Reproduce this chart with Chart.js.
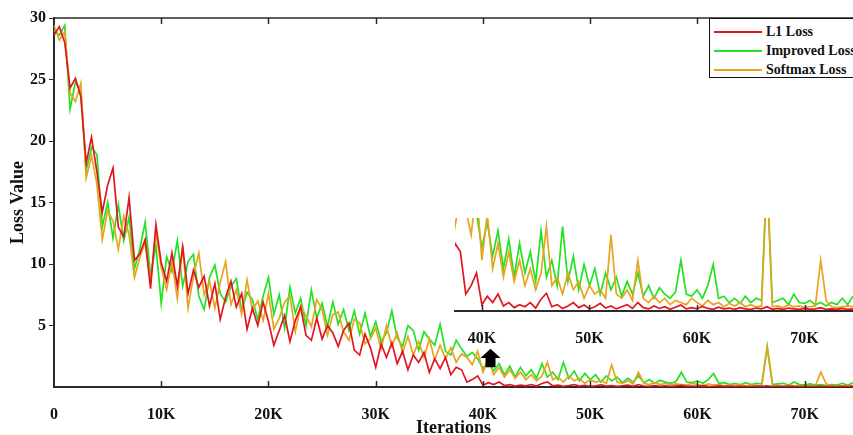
<!DOCTYPE html>
<html>
<head>
<meta charset="utf-8">
<script src="https://cdn.jsdelivr.net/npm/chart.js@4"></script>
<style>
  body { margin: 0; background: #fff; }
  #wrap { position: relative; width: 853px; height: 435px; overflow: hidden; }
  #main { position: absolute; left: 0; top: 0; }
  #inset { position: absolute; left: 440px; top: 205px; }
  #legend {
    position: absolute; left: 709px; top: 18px; width: 160px; height: 60px;
    border: 1.5px solid #111; background: #fff; box-sizing: border-box;
    font: bold 14px "Liberation Serif", serif; color: #111;
  }
  #legend .row { display: flex; align-items: center; height: 19px; }
  #legend .row:first-child { margin-top: 3px; }
  #legend .line { width: 48px; height: 2px; margin: 0 4px 0 4px; }
</style>
</head>
<body>
<div id="wrap">
  <canvas id="main" width="853" height="435"></canvas>
  <canvas id="inset" width="413" height="140"></canvas>
  <div id="legend"></div>
</div>
<script>
// iterations step between samples
const STEP = 500

const seriesNames = ["L1 Loss", "Improved Loss", "Softmax Loss"]
const seriesColors = ["rgb(226,22,32)", "rgb(34,226,34)", "rgb(232,164,30)"]

const l1Loss = [
  28.6, 29.3, 28.0, 24.3, 25.1, 23.6, 18.2, 20.3, 17.5, 14.2,
  16.4, 17.8, 13.0, 12.2, 15.4, 10.3, 10.8, 12.0, 8.0, 13.2,
  10.1, 8.6, 10.9, 8.2, 11.4, 7.6, 9.5, 8.1, 9.0, 6.6,
  8.4, 5.5, 7.3, 8.6, 6.5, 7.6, 4.7, 6.4, 5.0, 6.9,
  5.3, 3.4, 4.6, 5.8, 3.7, 5.4, 6.5, 4.2, 3.8, 5.6,
  3.9, 5.0, 4.4, 3.3, 4.6, 5.2, 3.0, 2.6, 4.3, 3.2,
  1.6, 3.5, 2.4, 3.6, 1.9, 2.9, 1.4, 2.6, 2.0, 2.8,
  1.2, 2.3, 1.5, 2.4, 1.0, 1.6, 1.4, 0.4, 0.6, 0.9,
  0.15, 0.35, 0.2, 0.4, 0.12, 0.2, 0.08, 0.15, 0.1, 0.2,
  0.07, 0.28, 0.42, 0.1, 0.15, 0.06, 0.12, 0.2, 0.08, 0.14,
  0.05, 0.1, 0.18, 0.07, 0.12, 0.05, 0.1, 0.15, 0.06, 0.2,
  0.08, 0.05, 0.12, 0.06, 0.1, 0.04, 0.09, 0.14, 0.05, 0.08,
  0.05, 0.11, 0.06, 0.04, 0.09, 0.05, 0.07, 0.04, 0.08, 0.05,
  0.04, 0.07, 0.05, 0.1, 0.04, 0.06, 0.04, 0.07, 0.05, 0.04,
  0.06, 0.04, 0.05, 0.08, 0.04, 0.05, 0.04, 0.06, 0.04, 0.05
]

const improvedLoss = [
  29.0, 28.6, 29.4, 22.6, 24.8, 24.0, 17.6, 19.5, 18.9, 13.0,
  15.0, 12.1, 14.8, 11.9, 13.8, 9.6, 11.2, 13.4, 9.1, 11.5,
  6.8, 10.6, 9.4, 11.9, 8.2, 10.2, 10.8, 7.4, 6.3, 8.9,
  9.9, 7.6, 6.9, 8.2, 8.8, 6.2, 7.7, 7.1, 5.5, 7.4,
  8.9, 5.9, 7.5, 4.8, 8.1, 6.0, 7.2, 5.0, 7.9, 5.6,
  6.8, 4.9, 6.9, 5.1, 6.3, 4.6, 6.2, 4.3, 6.0, 4.1,
  5.3, 3.7, 4.4, 6.2, 4.0, 3.3, 5.0, 4.6, 3.0, 4.5,
  3.9, 3.4, 5.1, 2.9, 2.6, 3.8, 3.1, 2.5, 2.8, 2.3,
  1.5, 2.1, 1.3, 1.9, 1.0, 1.7, 0.8, 1.6, 0.9, 1.4,
  0.7, 1.9, 0.8, 1.2, 0.6, 2.0, 0.7, 1.3, 0.5, 1.1,
  0.6, 1.0, 0.4, 0.9, 0.5, 0.8, 0.35, 0.7, 0.4, 0.9,
  0.35, 0.6, 0.3, 0.55, 0.4, 0.3, 0.45, 1.2, 0.4, 0.35,
  0.5, 0.3, 0.6, 1.1, 0.3, 0.35, 0.2, 0.3, 0.18, 0.35,
  0.2, 0.3, 0.25, 3.3, 0.2, 0.25, 0.3, 0.15, 0.4, 0.2,
  0.18, 0.25, 0.15, 0.2, 0.12, 0.2, 0.15, 0.3, 0.15, 0.35
]

const softmaxLoss = [
  29.4, 28.2, 28.9, 23.9, 23.2, 24.7, 17.0, 18.8, 16.5, 12.0,
  14.3, 13.5, 11.2, 13.9, 12.4, 8.9, 10.5, 11.8, 8.6, 12.6,
  9.7, 7.9, 10.2, 7.2, 11.5, 6.4, 9.0, 10.9, 7.5, 8.6,
  6.4, 8.5, 10.2, 6.7, 7.9, 5.9, 8.7, 6.2, 7.0, 5.4,
  7.6, 4.7, 5.6, 6.9, 7.4, 4.5, 6.6, 5.8, 4.9, 7.1,
  6.3, 4.2, 5.9, 6.1, 4.5, 3.8, 5.5, 5.2, 3.5, 3.9,
  4.8, 3.1, 5.0, 3.3, 4.4, 2.8, 4.1, 2.6, 3.7, 2.4,
  3.9, 2.2, 3.4, 2.3, 3.2, 2.0, 2.7, 2.4, 1.8, 2.9,
  1.2, 2.3, 1.0, 1.6, 0.8, 1.4, 0.7, 1.2, 0.6, 1.0,
  0.5, 0.9, 2.0, 0.6, 0.8, 0.4, 0.9, 0.5, 0.7, 0.3,
  0.6, 0.4, 0.5, 0.3, 1.8, 0.4, 0.3, 0.5, 0.25, 1.2,
  0.3, 0.2, 0.35, 0.2, 0.3, 0.15, 0.25, 0.2, 0.15, 0.3,
  0.2, 0.12, 0.25, 0.15, 0.2, 0.1, 0.18, 0.12, 0.2, 0.1,
  0.15, 0.1, 0.12, 3.2, 0.1, 0.12, 0.08, 0.15, 0.1, 0.12,
  0.08, 0.1, 0.12, 1.2, 0.25, 0.1, 0.08, 0.1, 0.12, 0.1
]

const xTicks = [0, 10000, 20000, 30000, 40000, 50000, 60000, 70000]
const xTickLabels = ["0", "10K", "20K", "30K", "40K", "50K", "60K", "70K"]
const insetTicks = [40000, 50000, 60000, 70000]
const yTicks = [5, 10, 15, 20, 25, 30]

const X_MAX = 74500
const INSET_MIN = 37500
const INSET_YMAX = 2.2
const arrowAt = 40700

const tickFont = { family: "Liberation Serif", weight: "bold", size: 16 }
const axisColor = "#2a2a2a"

const allSeries = [l1Loss, improvedLoss, softmaxLoss]
const drawOrder = [1, 3, 2]

function makeDatasets() {
  return allSeries.map((vals, s) => ({
    label: seriesNames[s],
    data: vals.map((v, i) => ({ x: i * STEP, y: v })),
    borderColor: seriesColors[s],
    borderWidth: 1.7,
    pointRadius: 0,
    tension: 0,
    order: drawOrder[s]
  }))
}

function tickLabel(v) {
  const k = xTicks.indexOf(v)
  return k >= 0 ? xTickLabels[k] : ""
}

// inward tick marks on the x axis (and on the top frame line for the main chart)
const innerTicks = {
  id: "innerTicks",
  afterDraw(chart, args, opts) {
    const { ctx, chartArea: a, scales: { x } } = chart
    ctx.save()
    ctx.strokeStyle = axisColor
    ctx.lineWidth = 1.5
    ctx.beginPath()
    if (opts.top) {
      ctx.moveTo(a.left, a.top)
      ctx.lineTo(a.right, a.top)
    }
    for (const v of opts.ticks) {
      if (v === 0) continue
      const px = Math.round(x.getPixelForValue(v)) + 0.5
      ctx.moveTo(px, a.bottom)
      ctx.lineTo(px, a.bottom - 6)
      if (opts.top) {
        ctx.moveTo(px, a.top)
        ctx.lineTo(px, a.top + 6)
      }
    }
    ctx.stroke()
    if (opts.arrow) {
      const { y } = chart.scales
      const cx = x.getPixelForValue(arrowAt)
      const top = y.getPixelForValue(3.1)
      const bot = y.getPixelForValue(1.6)
      const mid = top + (bot - top) * 0.5
      ctx.fillStyle = "#000"
      ctx.beginPath()
      ctx.moveTo(cx, top)
      ctx.lineTo(cx + 10, mid)
      ctx.lineTo(cx + 5, mid)
      ctx.lineTo(cx + 5, bot)
      ctx.lineTo(cx - 5, bot)
      ctx.lineTo(cx - 5, mid)
      ctx.lineTo(cx - 10, mid)
      ctx.closePath()
      ctx.fill()
    }
    ctx.restore()
  }
}

new Chart(document.getElementById("main"), {
  type: "line",
  data: { datasets: makeDatasets() },
  plugins: [innerTicks],
  options: {
    responsive: false,
    animation: false,
    layout: { padding: { top: 18, right: 0, left: 0, bottom: 0 } },
    plugins: {
      legend: { display: false },
      tooltip: { enabled: false },
      innerTicks: { ticks: xTicks, top: true, arrow: true }
    },
    scales: {
      x: {
        type: "linear",
        min: 0,
        max: X_MAX,
        afterFit: s => { s.height = 48 },
        afterBuildTicks: s => { s.ticks = xTicks.map(v => ({ value: v })) },
        grid: { display: false },
        border: { display: true, color: axisColor, width: 2 },
        ticks: {
          color: "#111",
          font: tickFont,
          padding: 10,
          maxRotation: 0,
          autoSkip: false,
          callback: v => tickLabel(v)
        },
        title: {
          display: true,
          text: "Iterations",
          color: "#111",
          font: { family: "Liberation Serif", weight: "bold", size: 18, lineHeight: 1 },
          padding: { top: 0, bottom: -2 }
        }
      },
      y: {
        min: 0,
        max: 30,
        afterFit: s => { s.width = 54 },
        afterBuildTicks: s => { s.ticks = yTicks.map(v => ({ value: v })) },
        grid: { display: true, drawOnChartArea: false, drawTicks: true, tickLength: 5, color: axisColor },
        border: { display: true, color: axisColor, width: 2 },
        ticks: { color: "#111", font: tickFont, padding: 3 },
        title: {
          display: true,
          text: "Loss Value",
          color: "#111",
          font: { family: "Liberation Serif", weight: "bold", size: 18, lineHeight: 1 },
          padding: { top: 9, bottom: 0 }
        }
      }
    }
  }
})

new Chart(document.getElementById("inset"), {
  type: "line",
  data: { datasets: makeDatasets() },
  plugins: [innerTicks],
  options: {
    responsive: false,
    animation: false,
    layout: { padding: { top: 13, right: 0, left: 15, bottom: 0 } },
    plugins: {
      legend: { display: false },
      tooltip: { enabled: false },
      innerTicks: { ticks: insetTicks, top: false, arrow: false }
    },
    scales: {
      x: {
        type: "linear",
        min: INSET_MIN,
        max: X_MAX,
        afterFit: s => { s.height = 34 },
        afterBuildTicks: s => { s.ticks = insetTicks.map(v => ({ value: v })) },
        grid: { display: false },
        border: { display: true, color: axisColor, width: 2 },
        ticks: { color: "#111", font: tickFont, padding: 10, maxRotation: 0, autoSkip: false, callback: v => tickLabel(v) }
      },
      y: { display: false, min: 0, max: INSET_YMAX }
    }
  }
})

// legend box
const legend = document.getElementById("legend")
seriesNames.forEach((name, s) => {
  const row = document.createElement("div")
  row.className = "row"
  const line = document.createElement("span")
  line.className = "line"
  line.style.background = seriesColors[s]
  const txt = document.createElement("span")
  txt.textContent = name
  row.appendChild(line)
  row.appendChild(txt)
  legend.appendChild(row)
})
</script>
</body>
</html>
